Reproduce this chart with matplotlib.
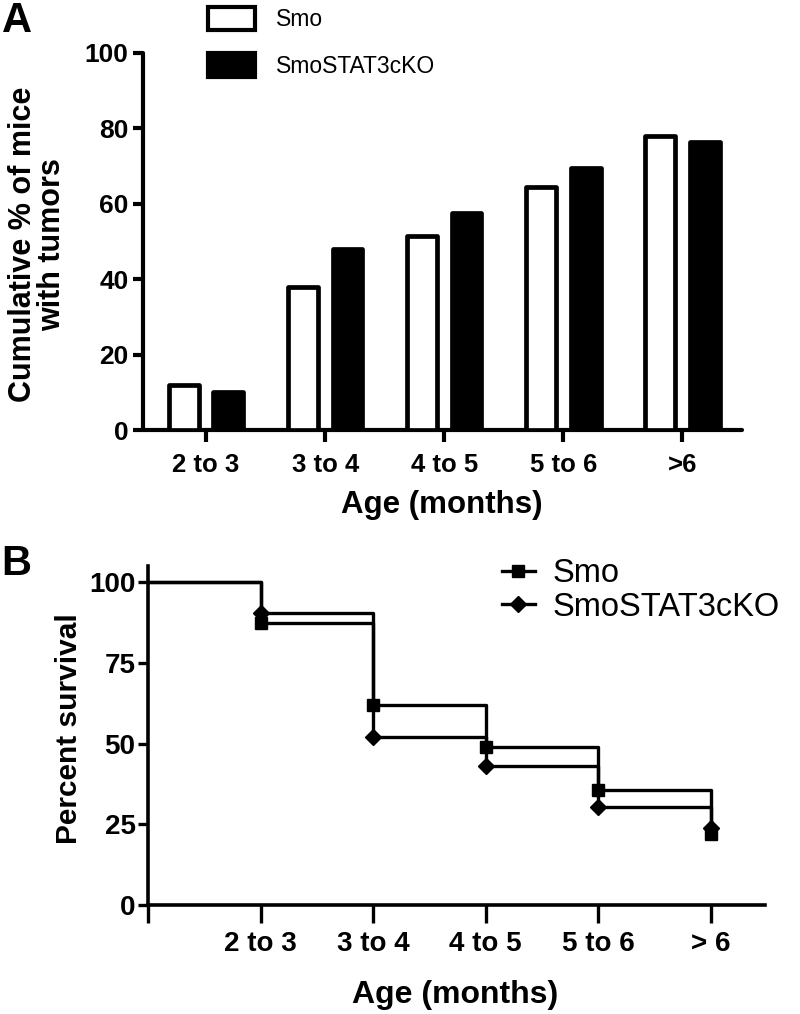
import matplotlib
matplotlib.use("Agg")
import matplotlib.pyplot as plt
from matplotlib.patches import Patch
from matplotlib.lines import Line2D
import numpy as np

plt.rcParams['font.family'] = ['Liberation Sans', 'DejaVu Sans']

# Panel A: cumulative % of mice with tumors
age_groups = ["2 to 3", "3 to 4", "4 to 5", "5 to 6", ">6"]
smo_tumor = [12, 38, 51.5, 64.5, 78]
ko_tumor = [10, 48, 57.5, 69.5, 76.5]

# Panel B: survival (step curve)
surv_ticks = ["", "2 to 3", "3 to 4", "4 to 5", "5 to 6", "> 6"]
surv_time = [0, 1, 2, 3, 4, 5]
smo_surv = [100, 87.5, 62, 48.8, 35.5, 22]
ko_surv = [100, 90.5, 52, 43, 30.5, 24]

W, H = 800, 1014
fig = plt.figure(figsize=(W / 100, H / 100), dpi=100)


def px_axes(left, top, right, bottom):
    return fig.add_axes([left / W, 1 - bottom / H, (right - left) / W, (bottom - top) / H])


# ---------------- Panel A ----------------
axA = px_axes(143, 53, 742, 430)
x = np.arange(len(age_groups))
bw = 0.25
off = 0.187
axA.bar(x - off, smo_tumor, bw, color="white", edgecolor="black", linewidth=3.4,
        joinstyle="round", label="Smo", zorder=3)
axA.bar(x + off, ko_tumor, bw, color="black", edgecolor="black", linewidth=3.4,
        joinstyle="round", label="SmoSTAT3cKO", zorder=3)
axA.set_xlim(-0.53, 4.5)
axA.set_ylim(0, 100)
axA.set_yticks([0, 20, 40, 60, 80, 100])
axA.set_xticks(x)
axA.set_xticklabels(age_groups)
for s in ["top", "right"]:
    axA.spines[s].set_visible(False)
for s in ["left", "bottom"]:
    axA.spines[s].set_linewidth(3)
    axA.spines[s].set_capstyle("round")
axA.tick_params(axis="y", length=7.5, width=3, pad=3, labelsize=19)
axA.tick_params(axis="x", length=8.5, width=3, pad=8, labelsize=18.5)
for t in axA.get_xticklabels() + axA.get_yticklabels():
    t.set_fontweight("bold")
axA.set_xlabel("Age (months)", fontsize=22.5, fontweight="bold")
axA.xaxis.set_label_coords(0.499, -0.199)
axA.xaxis.label.set_va("center")
axA.set_ylabel("Cumulative % of mice\nwith tumors", fontsize=22, fontweight="bold",
               linespacing=1.0)
axA.yaxis.set_label_coords(-0.176, 0.493)
axA.yaxis.label.set_va("center")

handlesA = [Patch(facecolor="white", edgecolor="black", linewidth=3),
            Patch(facecolor="black", edgecolor="black", linewidth=3)]
axA.legend(handlesA, ["Smo", "SmoSTAT3cKO"], loc="upper left",
           bbox_to_anchor=(208 / W, 1 - 7 / H), bbox_transform=fig.transFigure,
           frameon=False, fontsize=16.5, handlelength=2.05, handleheight=1.2,
           handletextpad=0.9, labelspacing=0.95, borderpad=0, borderaxespad=0)

# ---------------- Panel B ----------------
axB = px_axes(148, 566, 765, 905)
axB.plot(surv_time, smo_surv, drawstyle="steps-post", color="black", linewidth=2.4,
         marker="s", markersize=8.5, markevery=slice(1, None), label="Smo", zorder=3)
axB.plot(surv_time, ko_surv, drawstyle="steps-post", color="black", linewidth=2.4,
         marker="D", markersize=8, markevery=slice(1, None), label="SmoSTAT3cKO", zorder=3)
axB.set_xlim(0, 5.48)
axB.set_ylim(0, 105)
axB.set_yticks([0, 25, 50, 75, 100])
axB.set_xticks(surv_time)
axB.set_xticklabels(surv_ticks)
for s in ["top", "right"]:
    axB.spines[s].set_visible(False)
for s in ["left", "bottom"]:
    axB.spines[s].set_linewidth(2.6)
axB.tick_params(axis="y", length=7, width=2.4, pad=2, labelsize=20)
axB.tick_params(axis="x", length=13, width=2.4, pad=6, labelsize=20)
for t in axB.get_xticklabels() + axB.get_yticklabels():
    t.set_fontweight("bold")
axB.set_xlabel("Age (months)", fontsize=23, fontweight="bold")
axB.xaxis.set_label_coords(0.4976, -0.265)
axB.xaxis.label.set_va("center")
axB.set_ylabel("Percent survival", fontsize=21.5, fontweight="bold")
axB.yaxis.set_label_coords(-0.128, 0.52)
axB.yaxis.label.set_va("center")

handlesB = [Line2D([], [], color="black", linewidth=2.4, marker="s", markersize=8.5),
            Line2D([], [], color="black", linewidth=2.4, marker="D", markersize=8)]
axB.legend(handlesB, ["Smo", "SmoSTAT3cKO"], loc="upper left",
           bbox_to_anchor=(502 / W, 1 - 558 / H), bbox_transform=fig.transFigure,
           frameon=False, fontsize=23.5, handlelength=1.0, handletextpad=0.55,
           labelspacing=0.08, borderpad=0, borderaxespad=0)

# panel letters
fig.text(17 / W, 1 - 21 / H, "A", fontsize=30, fontweight="bold", ha="center", va="center")
fig.text(16 / W, 1 - 564 / H, "B", fontsize=30, fontweight="bold", ha="center", va="center")

fig.savefig("out.png", dpi=100)
